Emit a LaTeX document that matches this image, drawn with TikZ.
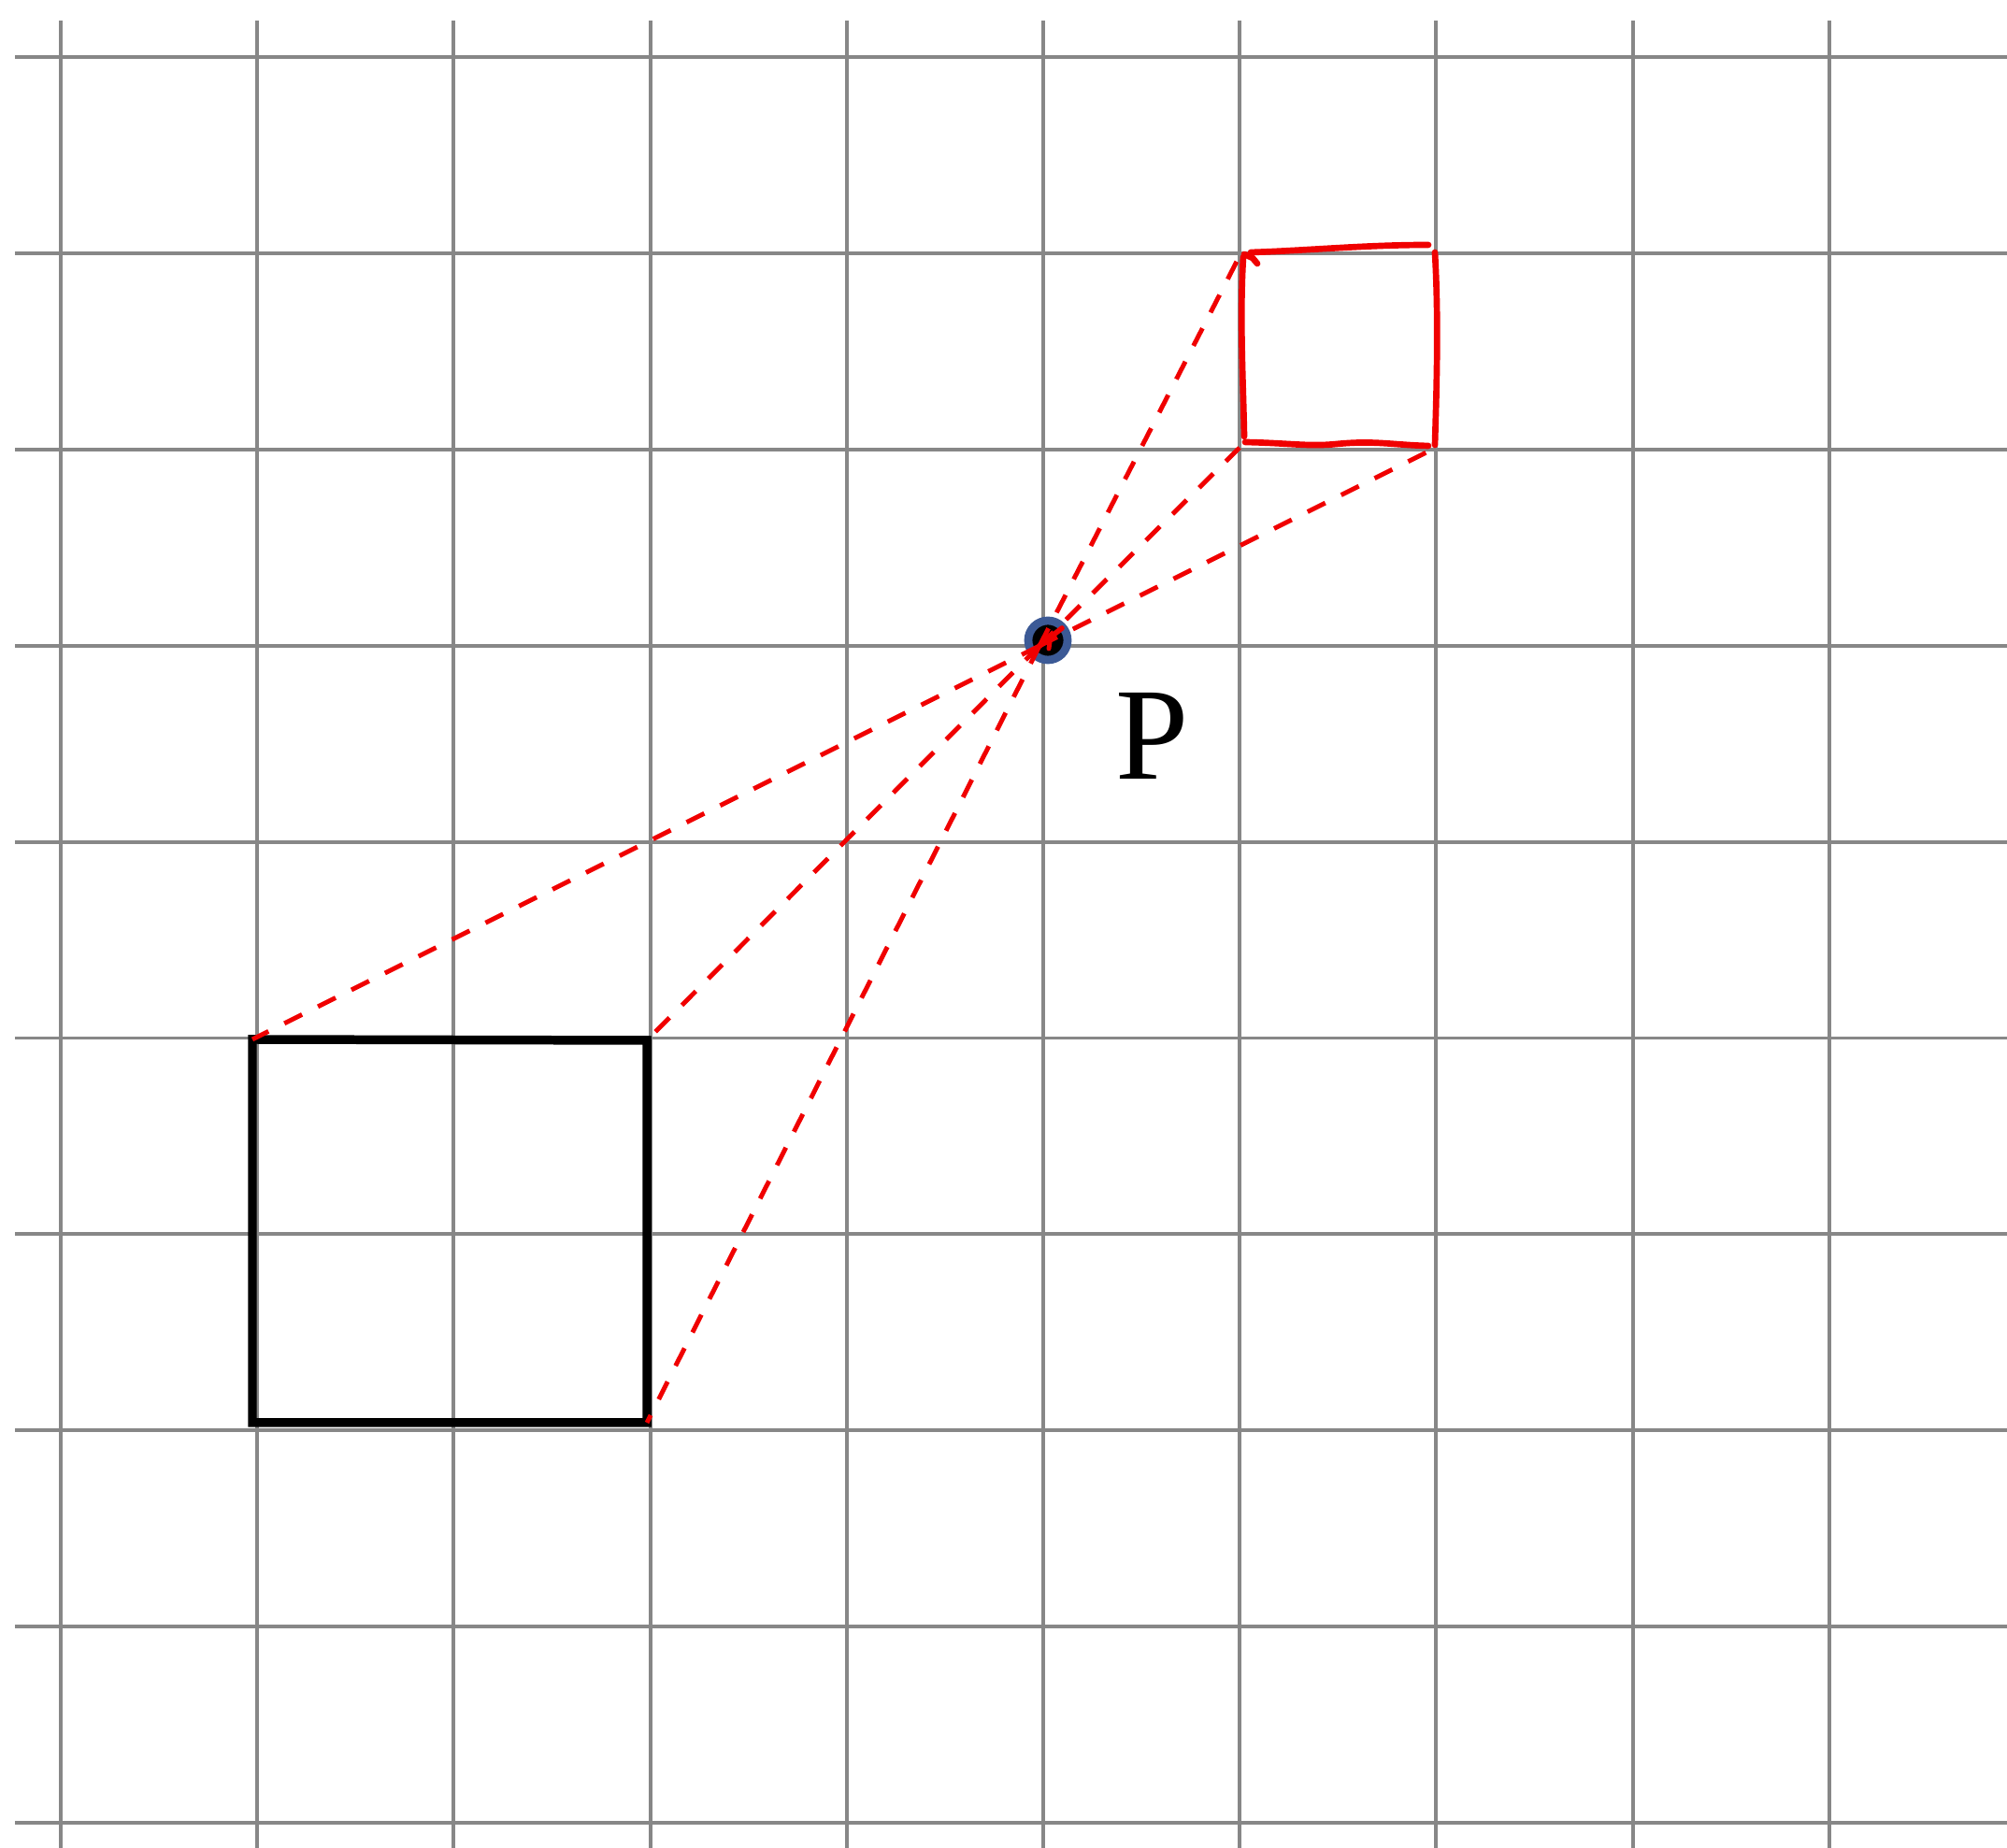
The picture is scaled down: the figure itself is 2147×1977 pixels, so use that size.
\documentclass[tikz,border=0pt]{standalone}
\usepackage{fontspec}
\setmainfont{Liberation Serif}
\definecolor{gridgray}{RGB}{135,135,135}
\definecolor{dotblue}{RGB}{60,90,150}
\definecolor{penred}{RGB}{240,0,0}
\begin{document}
\begin{tikzpicture}[x=0.01cm,y=-0.01cm,
  gridline/.style={draw=gridgray, line width=1.1pt},
  blacksq/.style={draw=black, line width=2.7pt},
  reddash/.style={draw=penred, line width=1.4pt, dash pattern=on 6pt off 5.4pt},
  redpen/.style={draw=penred, line width=1.9pt, line cap=round, line join=round},
  ptdot/.style={circle, fill=black, draw=dotblue, line width=2.5pt, minimum size=0.42cm, inner sep=0pt},
  ptlabel/.style={font=\fontsize{40}{44}\selectfont, inner sep=0pt}]
\useasboundingbox (0,0) rectangle (2147,1977);
\fill[white] (0,0) rectangle (2147,1977);
% grid
\foreach \i in {0,...,9} {
  \draw[gridline] ({65+210.2*\i},22) -- ({65+210.2*\i},1977);
  \draw[gridline] (16,{61+209.9*\i}) -- (2147,{61+209.9*\i});
}
% black square corners
\coordinate (btl) at (270,1112);
\coordinate (btr) at (692,1113);
\coordinate (bbr) at (692,1522);
\coordinate (bbl) at (270,1522);
\draw[blacksq] (btl) -- (btr) -- (bbr) -- (bbl) -- cycle;
% red square (hand drawn)
\coordinate (rtl) at (1328,270);
\coordinate (rbl) at (1326,479);
\coordinate (rbr) at (1532,481);
\draw[redpen] (1338,270) .. controls (1400,268) and (1460,262) .. (1528,262);
\draw[redpen] (1535,270) .. controls (1539,340) and (1537,410) .. (1535,476);
\draw[redpen] (1332,473) .. controls (1380,474) and (1400,478) .. (1430,475) .. controls (1470,471) and (1490,476) .. (1528,477);
\draw[redpen] (1330,275) .. controls (1326,340) and (1330,410) .. (1331,467);
\draw[redpen] (1331,272) -- (1340,276) -- (1345,282);
% point P
\node[ptdot] (P) at (1121,685) {};
\coordinate (pc) at (1112,691);
\node[ptlabel] (Plabel) at (1233,787) {P};
% dashed rays
\draw[reddash] (pc) -- (btl);
\draw[reddash] (pc) -- (btr);
\draw[reddash] (pc) -- (bbr);
\draw[reddash] (pc) -- (rtl);
\draw[reddash] (pc) -- (rbl);
\draw[reddash] (pc) -- (rbr);
\draw[draw=penred, line width=1.6pt, line cap=round] (pc) -- (1136,672);
\draw[draw=penred, line width=1.4pt, line cap=round] (1124,680) -- (1122,694);
\end{tikzpicture}
\end{document}
